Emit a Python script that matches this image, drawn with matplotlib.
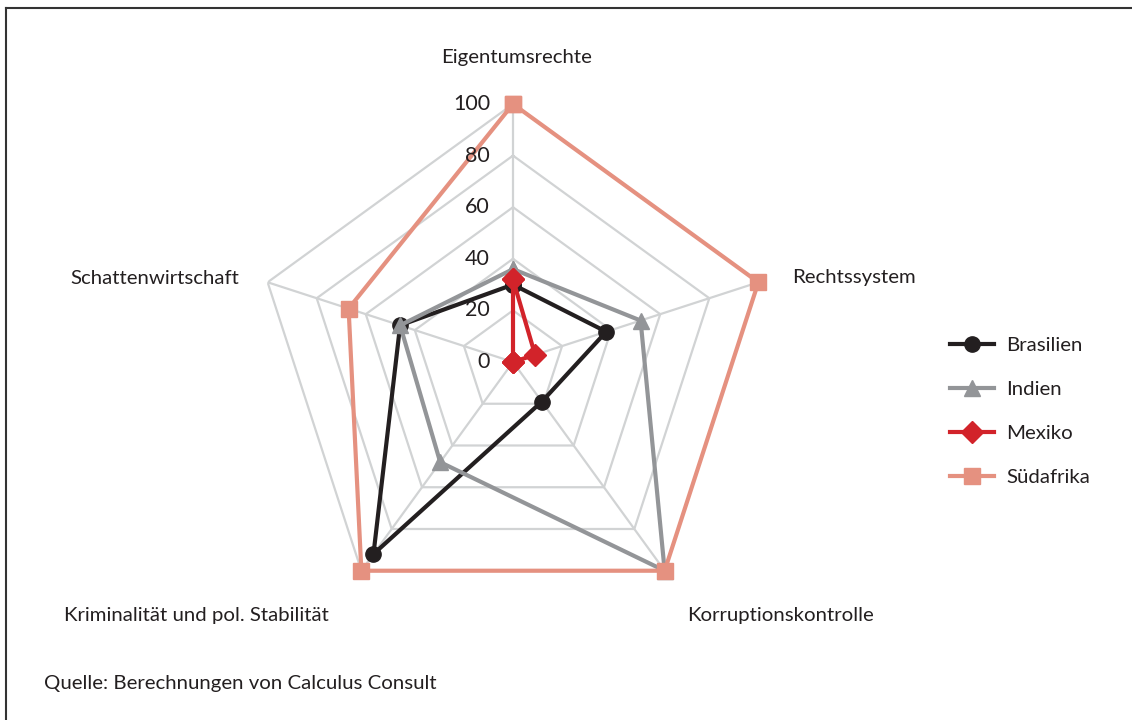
import numpy as np
import matplotlib.pyplot as plt
import matplotlib.transforms as mtransforms
from matplotlib.lines import Line2D

plt.rcParams['font.family'] = ['Lato', 'DejaVu Sans']

categories = ['Eigentumsrechte', 'Rechtssystem', 'Korruptionskontrolle',
              'Kriminalität und pol. Stabilität', 'Schattenwirtschaft']
brasilien = [30, 38, 19, 92, 46]
indien = [36, 52, 100, 48, 46]
mexiko = [32, 9, 0, 0, 0]
suedafrika = [100, 100, 100, 100, 67]
ticks = [0, 20, 40, 60, 80, 100]

series = [
    ('Brasilien', brasilien, '#231f20', 'o', 11),
    ('Indien', indien, '#939598', '^', 11),
    ('Mexiko', mexiko, '#d2232a', 'D', 11),
    ('Südafrika', suedafrika, '#e59180', 's', 11.5),
]

W, H = 1132, 720
fig = plt.figure(figsize=(W / 100, H / 100), dpi=100)

cx, cy, rad = 513, 362, 258
ax = fig.add_axes([(cx - rad) / W, 1 - (cy + rad) / H, 2 * rad / W, 2 * rad / H],
                  projection='polar')
ax.set_theta_offset(np.pi / 2)
ax.set_theta_direction(-1)
ax.set_ylim(0, 100)
ax.grid(False)
ax.set_xticks([])
ax.set_yticks([])
ax.spines['polar'].set_visible(False)
ax.patch.set_visible(False)

angles = np.linspace(0, 2 * np.pi, len(categories), endpoint=False)
closed = np.append(angles, angles[0])

# polygon grid and spokes
grid_col = '#d1d3d4'
for t in ticks[1:]:
    ax.plot(closed, [t] * len(closed), color=grid_col, lw=1.6, zorder=1)
for a in angles:
    ax.plot([a, a], [0, 100], color=grid_col, lw=1.6, zorder=1)

for name, vals, col, mk, ms in series:
    v = np.append(vals, vals[0])
    ax.plot(closed, v, color=col, lw=3, marker=mk, markersize=ms,
            solid_joinstyle='miter', clip_on=False, zorder=3)

# radial tick labels left of the top spoke
off = mtransforms.offset_copy(ax.transData, fig=fig, x=-23, y=0, units='dots')
for t in ticks:
    ax.text(0, t, str(t), transform=off, ha='right', va='center',
            fontsize=15.5, color='#231f20', zorder=4)

# category labels
lab_pos = [(517, 57, 'center'), (792, 278, 'left'), (687, 615, 'left'),
           (64, 615, 'left'), (70, 278, 'left')]
for name, (x, y, ha) in zip(categories, lab_pos):
    fig.text(x / W, 1 - y / H, name, ha=ha, va='center', fontsize=14.7,
             color='#231f20')

handles = [Line2D([], [], color=col, lw=3, marker=mk, markersize=ms)
           for name, vals, col, mk, ms in series]
fig.legend(handles, [s[0] for s in series], loc='upper left',
           bbox_to_anchor=(932 / W, 1 - 318 / H), frameon=False,
           fontsize=14.7, handlelength=2.15, labelspacing=1.31,
           handletextpad=0.6, labelcolor='#231f20')

fig.text(44 / W, 1 - 683 / H, 'Quelle: Berechnungen von Calculus Consult',
         ha='left', va='center', fontsize=14.7, color='#231f20')

# frame lines along the top and left edge
fig.add_artist(Line2D([6 / W, 1], [1 - 8 / H, 1 - 8 / H], color='#333333',
                      lw=1.5, transform=fig.transFigure))
fig.add_artist(Line2D([6 / W, 6 / W], [1 - 8 / H, 0], color='#333333',
                      lw=1.5, transform=fig.transFigure))

fig.savefig('out.png', dpi=100, facecolor='white')
